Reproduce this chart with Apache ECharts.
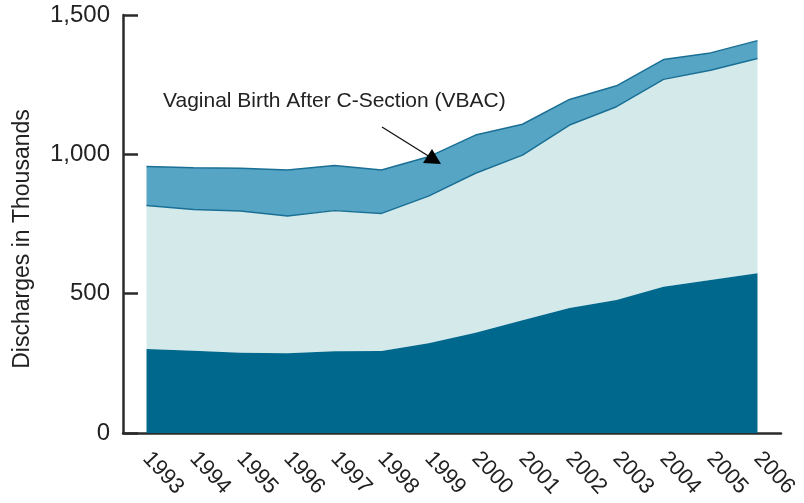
<!DOCTYPE html>
<html>
<head>
<meta charset="utf-8">
<script src="https://cdn.jsdelivr.net/npm/echarts@6/dist/echarts.min.js"></script>
<style>
  html, body { margin: 0; padding: 0; background: #fff; }
  #chart { width: 804px; height: 503px; }
</style>
</head>
<body>
<div id="chart"></div>
<script>
// years on the x axis
const years = ['1993', '1994', '1995', '1996', '1997', '1998', '1999',
               '2000', '2001', '2002', '2003', '2004', '2005', '2006'];

// discharges in thousands (stacked bottom to top)
const repeatCS = [301, 295, 288, 286, 293, 294, 322, 360, 405, 449, 477, 525, 549, 573];
const firstCS  = [515, 507, 509, 493, 505, 494, 528, 572, 592, 656, 694, 744, 753, 771];
const vbac     = [140, 150, 153, 165, 162, 156, 141, 137, 111, 92, 75, 71, 62, 64];

const yTicks = { min: 0, max: 1500, interval: 500 };

const FONT = '"Liberation Sans", Arial, sans-serif';
const lineCol = '#1a6f95';

const chart = echarts.init(document.getElementById('chart'));

const option = {
    backgroundColor: '#fff',
    animation: false,
    grid: { left: 123, right: 23, top: 15, bottom: 70 },
    xAxis: {
        type: 'category',
        data: years,
        boundaryGap: true,
        axisLine: { lineStyle: { color: '#2b2b2b', width: 2.5 } },
        axisTick: {
            length: 10,
            interval: (idx) => idx > 0,
            lineStyle: { color: '#2b2b2b', width: 2.5 }
        },
        axisLabel: {
            rotate: -47,
            margin: 22,
            fontSize: 22,
            color: '#222',
            fontFamily: FONT
        }
    },
    yAxis: {
        type: 'value',
        min: yTicks.min,
        max: yTicks.max,
        interval: yTicks.interval,
        name: 'Discharges in Thousands',
        nameLocation: 'middle',
        nameGap: 89,
        nameTextStyle: { fontSize: 23, color: '#222', fontFamily: FONT, padding: [0, 30, 0, 0] },
        axisLine: { show: true, lineStyle: { color: '#2b2b2b', width: 2.5 } },
        axisTick: { show: true, inside: true, length: 15, lineStyle: { color: '#2b2b2b', width: 2.5 } },
        splitLine: { show: false },
        axisLabel: {
            margin: 13,
            fontSize: 24,
            color: '#222',
            fontFamily: FONT,
            formatter: (v) => v.toLocaleString('en-US')
        }
    },
    series: [
        {
            name: 'Repeat C-Section',
            type: 'line',
            stack: 'total',
            data: repeatCS,
            symbol: 'none',
            lineStyle: { width: 0 },
            areaStyle: { color: '#00688c', opacity: 1 },
            z: 3
        },
        {
            name: 'First Time C-Section',
            type: 'line',
            stack: 'total',
            data: firstCS,
            symbol: 'none',
            lineStyle: { width: 1.5, color: lineCol },
            areaStyle: { color: '#d3e9ea', opacity: 1 },
            z: 2
        },
        {
            name: 'Vaginal Birth After C-Section (VBAC)',
            type: 'line',
            stack: 'total',
            data: vbac,
            symbol: 'none',
            lineStyle: { width: 1.5, color: lineCol },
            areaStyle: { color: '#56a5c5', opacity: 1 },
            z: 1
        }
    ],
    graphic: [
        {
            type: 'text', left: 163, top: 91,
            style: { text: 'Vaginal Birth After C-Section (VBAC)', fontSize: 21, fill: '#222', fontFamily: FONT }
        },
        {
            type: 'text', left: 274, top: 265,
            style: { text: 'First Time C-Section', fontSize: 21, fill: '#222', fontFamily: FONT }
        },
        {
            type: 'text', left: 534, top: 368,
            style: { text: 'Repeat C-Section', fontSize: 21, fill: '#fff', fontFamily: FONT }
        },
        {
            type: 'line',
            shape: { x1: 382, y1: 127, x2: 430, y2: 157 },
            style: { stroke: '#111', lineWidth: 1.3 },
            z: 10
        },
        {
            type: 'polygon',
            shape: { points: [[441, 164], [432, 149], [423, 163]] },
            style: { fill: '#000' },
            z: 10
        }
    ]
};

chart.setOption(option);
</script>
</body>
</html>
